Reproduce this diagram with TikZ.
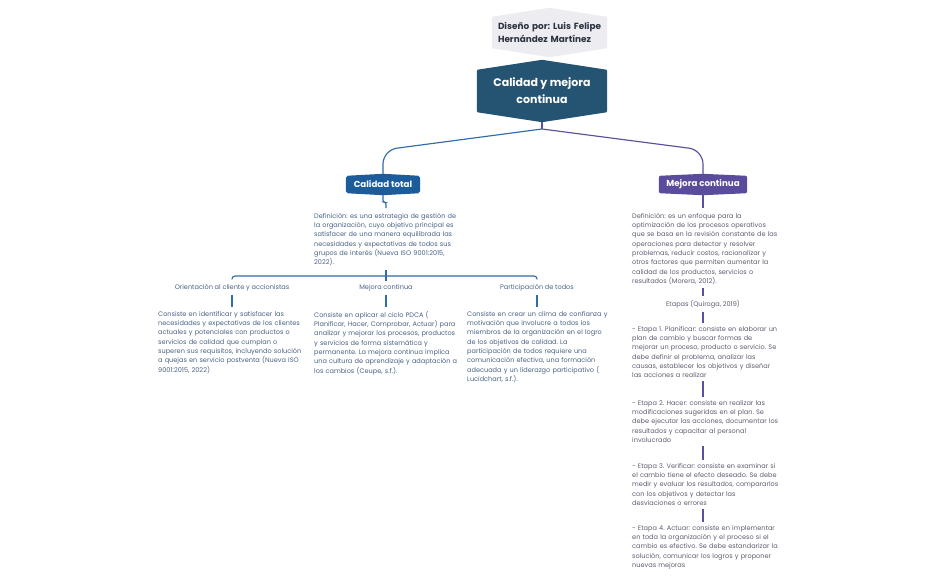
\documentclass[tikz,border=0pt]{standalone}
\usepackage{fontspec}
\setmainfont{Poppins}
\newfontfamily\headfont{Poppins}
\usetikzlibrary{backgrounds,calc}
\frenchspacing
\definecolor{rootc}{HTML}{245471}
\definecolor{bluec}{HTML}{1C5C9A}
\definecolor{purc}{HTML}{5A4B9C}
\definecolor{bline}{HTML}{2F6CA8}
\definecolor{pline}{HTML}{5D4F9E}
\definecolor{btext}{HTML}{4A6485}
\definecolor{ptext}{HTML}{625D72}
\definecolor{authf}{HTML}{EDECF0}
\definecolor{autht}{HTML}{2B3340}
\newcommand\hexshape[4]{\fill[#1,rounded corners=#4] (#2.north west) -- ([yshift=#3]#2.north) -- (#2.north east) -- (#2.south east) -- ([yshift=-#3]#2.south) -- (#2.south west) -- cycle;}
\begin{document}
\begin{tikzpicture}[x=1pt,y=-1pt,
  bodytext/.style={inner sep=0pt, align=left, text width=160pt, font=\fontsize{6.55}{9.3}\selectfont, anchor=north west},
  labeltext/.style={inner sep=0pt, font=\fontsize{6.55}{9.3}\selectfont},
  topic/.style={inner sep=0pt, minimum height=17pt, text=white, font=\headfont\bfseries\fontsize{8.7}{9}\selectfont},
  bl/.style={draw=bline, line width=1.15pt},
  pl/.style={draw=pline, line width=1.15pt},
  link/.style={shorten <=3.5pt, shorten >=3.5pt}
]
\useasboundingbox (0,0) rectangle (935,579);

\node[inner sep=0pt, minimum width=115pt, minimum height=31pt, text width=103pt, align=left, text=autht, font=\headfont\bfseries\fontsize{8.9}{12.5}\selectfont] (auth) at (549.5,32.5) {\mbox{Diseño por: Luis Felipe}\\\mbox{Hernández Martínez}};
\node[inner sep=0pt, minimum width=130pt, minimum height=42pt, align=center, text=white, font=\headfont\bfseries\fontsize{11}{17}\selectfont] (root) at (542,91) {Calidad y mejora\\continua};
\node[topic, minimum width=74pt] (ct) at (383,184.5) {Calidad total};
\node[topic, minimum width=88pt] (mc) at (703,184.5) {Mejora continua};

\begin{scope}[on background layer]
\fill[white] (0,0) rectangle (935,579);
\hexshape{authf}{auth}{9pt}{1pt}
\hexshape{rootc}{root}{10pt}{1pt}
\hexshape{bluec}{ct}{2pt}{2pt}
\hexshape{purc}{mc}{2pt}{2pt}
\end{scope}

\coordinate (hub) at (542,129);
\coordinate (bendl) at (383,150);
\coordinate (bendr) at (703,150);
\draw[pl] ([yshift=-10pt]root.south) -- (hub);
\draw[bl, rounded corners=14pt] (hub) -- (bendl) -- ([yshift=2pt]ct.north);
\draw[pl, rounded corners=14pt] (hub) -- (bendr) -- ([yshift=2pt]mc.north);

% left branch
\node[bodytext, text=btext] (def1) at (314,213) {Definición: es una estrategia de gestión de\\la organización, cuyo objetivo principal es\\satisfacer de una manera equilibrada las\\necesidades y expectativas de todos sus\\grupos de interés (Nueva ISO 9001:2015,\\2022).};
\node[labeltext, text=btext] (o1) at (232,288) {Orientación al cliente y accionistas};
\node[labeltext, text=btext] (o2) at (386,288) {Mejora continua};
\node[labeltext, text=btext] (o3) at (537,288) {Participación de todos};
\coordinate (jn) at (386,276);
\draw[bl, rounded corners=2pt] ([yshift=-2pt]ct.south) -- ([yshift=-9pt]ct.south) -| ([yshift=5pt]o2.north |- def1.north);
\draw[bl, link] (o2.north |- def1.south) -- (o2.north);
\draw[bl, rounded corners=3pt] ([yshift=5pt]o1.north) |- (jn) -| ([yshift=5pt]o3.north);

\node[bodytext, text=btext] (t1) at (158,311) {Consiste en identificar y satisfacer las\\necesidades y expectativas de los clientes\\actuales y potenciales con productos o\\servicios de calidad que cumplan o\\superen sus requisitos, incluyendo solución\\a quejas en servicio postventa (Nueva ISO\\9001:2015, 2022)};
\node[bodytext, text=btext] (t2) at (314,311) {Consiste en aplicar el ciclo PDCA (\\Planificar, Hacer, Comprobar, Actuar) para\\analizar y mejorar los procesos, productos\\y servicios de forma sistemática y\\permanente. La mejora continua implica\\una cultura de aprendizaje y adaptación a\\los cambios (Ceupe, s.f.).};
\node[bodytext, text=btext] (t3) at (467,311) {Consiste en crear un clima de confianza y\\motivación que involucre a todos los\\miembros de la organización en el logro\\de los objetivos de calidad. La\\participación de todos requiere una\\comunicación efectiva, una formación\\adecuada y un liderazgo participativo (\\Lucidchart, s.f.).};
\draw[bl, shorten <=3pt, shorten >=4.5pt] (o1.south) -- (o1.south |- t1.north);
\draw[bl, shorten <=3pt, shorten >=4.5pt] (o2.south) -- (o2.south |- t2.north);
\draw[bl, shorten <=3pt, shorten >=4.5pt] (o3.south) -- (o3.south |- t3.north);

% right branch
\node[bodytext, text=ptext] (def2) at (632,213) {Definición: es un enfoque para la\\optimización de los procesos operativos\\que se basa en la revisión constante de las\\operaciones para detectar y resolver\\problemas, reducir costos, racionalizar y\\otros factores que permiten aumentar la\\calidad de los productos, servicios o\\resultados (Morera, 2012).};
\node[labeltext, text=ptext] (et) at (703,304) {Etapas (Quiroga, 2019)};
\node[bodytext, text=ptext] (e1) at (632,326) {- Etapa 1. Planificar: consiste en elaborar un\\plan de cambio y buscar formas de\\mejorar un proceso, producto o servicio. Se\\debe definir el problema, analizar las\\causas, establecer los objetivos y diseñar\\las acciones a realizar};
\node[bodytext, text=ptext] (e2) at (632,400) {- Etapa 2. Hacer: consiste en realizar las\\modificaciones sugeridas en el plan. Se\\debe ejecutar las acciones, documentar los\\resultados y capacitar al personal\\involucrado};
\node[bodytext, text=ptext] (e3) at (632,463) {- Etapa 3. Verificar: consiste en examinar si\\el cambio tiene el efecto deseado. Se debe\\medir y evaluar los resultados, compararlos\\con los objetivos y detectar las\\desviaciones o errores};
\node[bodytext, text=ptext] (e4) at (632,525) {- Etapa 4. Actuar: consiste en implementar\\en toda la organización y el proceso si el\\cambio es efectivo. Se debe estandarizar la\\solución, comunicar los logros y proponer\\nuevas mejoras};
\draw[pl, shorten >=5pt] (mc.south) -- (mc.south |- def2.north);
\draw[pl, link] (et.north |- def2.south) -- (et.north);
\draw[pl, link] (et.south) -- (et.south |- e1.north);
\draw[pl, link] (et.south |- e1.south) -- (et.south |- e2.north);
\draw[pl, link] (et.south |- e2.south) -- (et.south |- e3.north);
\draw[pl, link] (et.south |- e3.south) -- (et.south |- e4.north);
\end{tikzpicture}
\end{document}
